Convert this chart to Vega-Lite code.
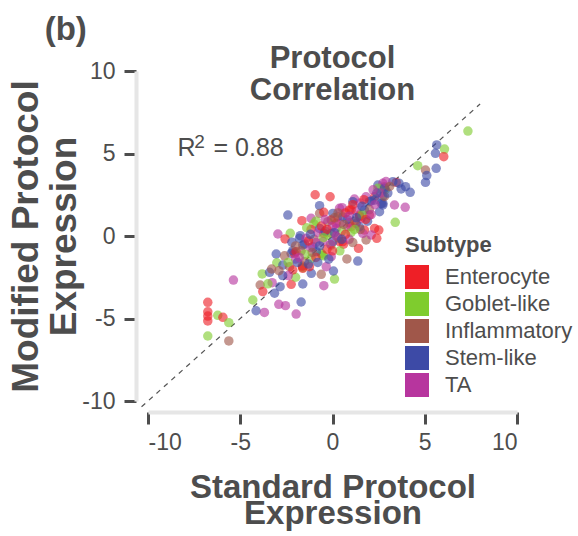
{
  "$schema": "https://vega.github.io/schema/vega-lite/v6.json",
  "autosize": {"type": "none"},
  "padding": {"left": 148, "top": 71, "right": 61, "bottom": 135},
  "width": 369,
  "height": 330,
  "background": "white",
  "config": {
    "font": "Liberation Sans",
    "view": {"stroke": null},
    "axis": {"grid": false}
  },
  "title": {
    "text": ["Protocol", "Correlation"],
    "fontSize": 31,
    "fontWeight": "bold",
    "color": "#4d4d4d",
    "anchor": "middle",
    "frame": "group",
    "lineHeight": 32,
    "offset": -93
  },
  "datasets": {
    "pts": [
      {"Standard": -6.76, "Modified": -4.02, "Subtype": "Enterocyte"},
      {"Standard": -6.76, "Modified": -4.59, "Subtype": "Enterocyte"},
      {"Standard": -6.76, "Modified": -4.85, "Subtype": "Enterocyte"},
      {"Standard": -6.76, "Modified": -5.15, "Subtype": "Enterocyte"},
      {"Standard": -6.22, "Modified": -4.81, "Subtype": "Goblet-like"},
      {"Standard": -5.94, "Modified": -4.93, "Subtype": "Enterocyte"},
      {"Standard": -5.62, "Modified": -5.25, "Subtype": "Goblet-like"},
      {"Standard": -6.76, "Modified": -6.06, "Subtype": "Goblet-like"},
      {"Standard": -5.62, "Modified": -6.36, "Subtype": "Inflammatory"},
      {"Standard": -5.37, "Modified": -2.67, "Subtype": "TA"},
      {"Standard": -4.32, "Modified": -3.88, "Subtype": "Goblet-like"},
      {"Standard": -4.14, "Modified": -4.53, "Subtype": "Stem-like"},
      {"Standard": -3.69, "Modified": -4.63, "Subtype": "TA"},
      {"Standard": -2.91, "Modified": -4.14, "Subtype": "TA"},
      {"Standard": -2.55, "Modified": -4.22, "Subtype": "TA"},
      {"Standard": -1.97, "Modified": -4.73, "Subtype": "TA"},
      {"Standard": -1.70, "Modified": -4.0, "Subtype": "Stem-like"},
      {"Standard": -3.92, "Modified": -2.97, "Subtype": "Inflammatory"},
      {"Standard": -3.78, "Modified": -3.37, "Subtype": "Enterocyte"},
      {"Standard": -3.81, "Modified": -2.30, "Subtype": "Goblet-like"},
      {"Standard": -3.41, "Modified": -2.2, "Subtype": "Stem-like"},
      {"Standard": -3.05, "Modified": -1.09, "Subtype": "Stem-like"},
      {"Standard": -3.27, "Modified": -2.83, "Subtype": "TA"},
      {"Standard": -3.02, "Modified": -1.62, "Subtype": "Goblet-like"},
      {"Standard": -2.84, "Modified": -3.07, "Subtype": "Stem-like"},
      {"Standard": -3.14, "Modified": -3.47, "Subtype": "Stem-like"},
      {"Standard": -2.24, "Modified": -2.93, "Subtype": "Enterocyte"},
      {"Standard": -1.61, "Modified": -2.91, "Subtype": "Stem-like"},
      {"Standard": -0.47, "Modified": -3.01, "Subtype": "TA"},
      {"Standard": 0.11, "Modified": -2.61, "Subtype": "Goblet-like"},
      {"Standard": 0.05, "Modified": -2.12, "Subtype": "Stem-like"},
      {"Standard": -0.61, "Modified": -2.32, "Subtype": "Inflammatory"},
      {"Standard": -2.0, "Modified": -2.5, "Subtype": "Goblet-like"},
      {"Standard": -2.69, "Modified": -1.76, "Subtype": "Stem-like"},
      {"Standard": -2.33, "Modified": -1.86, "Subtype": "Inflammatory"},
      {"Standard": -1.61, "Modified": -1.92, "Subtype": "Goblet-like"},
      {"Standard": -1.15, "Modified": -2.26, "Subtype": "Stem-like"},
      {"Standard": -1.64, "Modified": -1.82, "Subtype": "Enterocyte"},
      {"Standard": -2.24, "Modified": -1.05, "Subtype": "Stem-like"},
      {"Standard": -2.06, "Modified": -1.05, "Subtype": "Enterocyte"},
      {"Standard": -0.56, "Modified": -1.15, "Subtype": "Goblet-like"},
      {"Standard": -1.25, "Modified": -1.86, "Subtype": "Enterocyte"},
      {"Standard": -0.07, "Modified": -1.25, "Subtype": "TA"},
      {"Standard": -1.52, "Modified": -0.48, "Subtype": "Stem-like"},
      {"Standard": -0.94, "Modified": 2.5, "Subtype": "Enterocyte"},
      {"Standard": -0.13, "Modified": 2.38, "Subtype": "Enterocyte"},
      {"Standard": 1.19, "Modified": 2.24, "Subtype": "TA"},
      {"Standard": -2.42, "Modified": 1.27, "Subtype": "Stem-like"},
      {"Standard": -0.70, "Modified": 1.84, "Subtype": "Stem-like"},
      {"Standard": -1.66, "Modified": 0.93, "Subtype": "Enterocyte"},
      {"Standard": -0.70, "Modified": 1.37, "Subtype": "Inflammatory"},
      {"Standard": -0.47, "Modified": 1.44, "Subtype": "Enterocyte"},
      {"Standard": -1.16, "Modified": 1.07, "Subtype": "TA"},
      {"Standard": -1.01, "Modified": 0.73, "Subtype": "Goblet-like"},
      {"Standard": -1.16, "Modified": 0.4, "Subtype": "Enterocyte"},
      {"Standard": -2.96, "Modified": 0.12, "Subtype": "TA"},
      {"Standard": -2.29, "Modified": 0.16, "Subtype": "Goblet-like"},
      {"Standard": -2.57, "Modified": -0.18, "Subtype": "Enterocyte"},
      {"Standard": -2.20, "Modified": -0.38, "Subtype": "Stem-like"},
      {"Standard": -1.75, "Modified": 0.02, "Subtype": "Stem-like"},
      {"Standard": -2.15, "Modified": -0.89, "Subtype": "Stem-like"},
      {"Standard": -0.47, "Modified": 0.16, "Subtype": "Enterocyte"},
      {"Standard": 0.29, "Modified": 1.17, "Subtype": "Enterocyte"},
      {"Standard": 0.2, "Modified": 0.77, "Subtype": "Enterocyte"},
      {"Standard": 0.92, "Modified": 0.81, "Subtype": "Enterocyte"},
      {"Standard": 1.41, "Modified": -0.75, "Subtype": "Enterocyte"},
      {"Standard": 0.56, "Modified": -0.34, "Subtype": "Enterocyte"},
      {"Standard": 0.78, "Modified": -1.39, "Subtype": "Inflammatory"},
      {"Standard": 1.37, "Modified": -1.52, "Subtype": "Stem-like"},
      {"Standard": 1.73, "Modified": 0.36, "Subtype": "Enterocyte"},
      {"Standard": 2.28, "Modified": 0.46, "Subtype": "Enterocyte"},
      {"Standard": 2.51, "Modified": 0.36, "Subtype": "Enterocyte"},
      {"Standard": 1.82, "Modified": -0.24, "Subtype": "Inflammatory"},
      {"Standard": 2.1, "Modified": 0.06, "Subtype": "TA"},
      {"Standard": 2.28, "Modified": 2.38, "Subtype": "Enterocyte"},
      {"Standard": 1.82, "Modified": 2.38, "Subtype": "TA"},
      {"Standard": 2.46, "Modified": 3.09, "Subtype": "Stem-like"},
      {"Standard": 2.73, "Modified": 1.98, "Subtype": "Stem-like"},
      {"Standard": 2.55, "Modified": 1.47, "Subtype": "Stem-like"},
      {"Standard": 2.87, "Modified": 2.83, "Subtype": "Goblet-like"},
      {"Standard": 1.01, "Modified": 0.56, "Subtype": "Enterocyte"},
      {"Standard": -0.07, "Modified": 0.16, "Subtype": "Inflammatory"},
      {"Standard": 0.38, "Modified": 0.77, "Subtype": "TA"},
      {"Standard": -0.07, "Modified": -0.55, "Subtype": "Goblet-like"},
      {"Standard": -1.07, "Modified": -0.65, "Subtype": "Stem-like"},
      {"Standard": -0.61, "Modified": -1.05, "Subtype": "Goblet-like"},
      {"Standard": -1.61, "Modified": -1.96, "Subtype": "Enterocyte"},
      {"Standard": -0.34, "Modified": -1.86, "Subtype": "TA"},
      {"Standard": 7.34, "Modified": 6.36, "Subtype": "Goblet-like"},
      {"Standard": 5.65, "Modified": 5.52, "Subtype": "Stem-like"},
      {"Standard": 5.58, "Modified": 5.01, "Subtype": "Stem-like"},
      {"Standard": 6.07, "Modified": 5.27, "Subtype": "Goblet-like"},
      {"Standard": 6.03, "Modified": 4.81, "Subtype": "Enterocyte"},
      {"Standard": 4.62, "Modified": 4.26, "Subtype": "Goblet-like"},
      {"Standard": 5.04, "Modified": 4.0, "Subtype": "Inflammatory"},
      {"Standard": 5.62, "Modified": 4.1, "Subtype": "Stem-like"},
      {"Standard": 5.11, "Modified": 3.66, "Subtype": "Stem-like"},
      {"Standard": 5.04, "Modified": 3.25, "Subtype": "Stem-like"},
      {"Standard": 3.45, "Modified": 3.25, "Subtype": "Enterocyte"},
      {"Standard": 3.27, "Modified": 3.29, "Subtype": "Stem-like"},
      {"Standard": 3.96, "Modified": 2.99, "Subtype": "Stem-like"},
      {"Standard": 4.21, "Modified": 2.65, "Subtype": "Stem-like"},
      {"Standard": 3.72, "Modified": 2.85, "Subtype": "Stem-like"},
      {"Standard": 3.36, "Modified": 1.88, "Subtype": "TA"},
      {"Standard": 3.94, "Modified": 1.74, "Subtype": "TA"},
      {"Standard": 3.40, "Modified": 0.83, "Subtype": "Goblet-like"},
      {"Standard": 2.73, "Modified": 2.38, "Subtype": "Stem-like"},
      {"Standard": 2.82, "Modified": 2.99, "Subtype": "Inflammatory"},
      {"Standard": 2.73, "Modified": 3.19, "Subtype": "TA"},
      {"Standard": 2.46, "Modified": 2.89, "Subtype": "Goblet-like"},
      {"Standard": 2.73, "Modified": 1.88, "Subtype": "Stem-like"},
      {"Standard": 0.52, "Modified": 1.72, "Subtype": "TA"},
      {"Standard": 0.92, "Modified": 1.58, "Subtype": "Enterocyte"},
      {"Standard": 0.02, "Modified": 1.37, "Subtype": "Stem-like"},
      {"Standard": 2.0, "Modified": 1.27, "Subtype": "Enterocyte"},
      {"Standard": 2.1, "Modified": 2.12, "Subtype": "Stem-like"},
      {"Standard": 1.46, "Modified": 1.27, "Subtype": "Enterocyte"},
      {"Standard": 1.28, "Modified": 1.52, "Subtype": "TA"},
      {"Standard": 0.38, "Modified": 1.68, "Subtype": "TA"},
      {"Standard": -0.70, "Modified": 0.46, "Subtype": "Stem-like"},
      {"Standard": -0.07, "Modified": 0.97, "Subtype": "Enterocyte"},
      {"Standard": 1.28, "Modified": 0.77, "Subtype": "Enterocyte"},
      {"Standard": 0.83, "Modified": 0.56, "Subtype": "TA"},
      {"Standard": 1.55, "Modified": 1.07, "Subtype": "TA"},
      {"Standard": 1.73, "Modified": 1.58, "Subtype": "Stem-like"},
      {"Standard": 2.0, "Modified": 2.08, "Subtype": "Stem-like"},
      {"Standard": 2.4, "Modified": -0.14, "Subtype": "Enterocyte"},
      {"Standard": 1.64, "Modified": 0.16, "Subtype": "TA"},
      {"Standard": 0.6, "Modified": -0.5, "Subtype": "Enterocyte"},
      {"Standard": 0.38, "Modified": -0.34, "Subtype": "Enterocyte"},
      {"Standard": -0.5, "Modified": -1.2, "Subtype": "Goblet-like"},
      {"Standard": -1.15, "Modified": -1.35, "Subtype": "Goblet-like"},
      {"Standard": -0.25, "Modified": 0.06, "Subtype": "Goblet-like"},
      {"Standard": -1.97, "Modified": -0.95, "Subtype": "Enterocyte"},
      {"Standard": -1.79, "Modified": -0.14, "Subtype": "Stem-like"},
      {"Standard": -1.43, "Modified": -0.14, "Subtype": "TA"},
      {"Standard": -1.61, "Modified": -0.55, "Subtype": "Stem-like"},
      {"Standard": -1.52, "Modified": -1.56, "Subtype": "Inflammatory"},
      {"Standard": -0.88, "Modified": -0.95, "Subtype": "Stem-like"},
      {"Standard": -2.15, "Modified": -2.06, "Subtype": "Enterocyte"},
      {"Standard": -0.52, "Modified": -0.34, "Subtype": "TA"},
      {"Standard": 0.02, "Modified": -0.34, "Subtype": "Stem-like"},
      {"Standard": 0.2, "Modified": 0.46, "Subtype": "TA"},
      {"Standard": -0.25, "Modified": 0.87, "Subtype": "Inflammatory"},
      {"Standard": 1.46, "Modified": 0.56, "Subtype": "Stem-like"},
      {"Standard": 1.1, "Modified": 2.08, "Subtype": "Stem-like"},
      {"Standard": 2.82, "Modified": 2.9, "Subtype": "Stem-like"},
      {"Standard": 2.28, "Modified": 2.18, "Subtype": "Stem-like"},
      {"Standard": 2.64, "Modified": 1.98, "Subtype": "Stem-like"},
      {"Standard": 2.82, "Modified": 2.4, "Subtype": "Inflammatory"},
      {"Standard": 0.56, "Modified": 1.17, "Subtype": "Stem-like"},
      {"Standard": 1.01, "Modified": 1.58, "Subtype": "Enterocyte"},
      {"Standard": 1.46, "Modified": 1.17, "Subtype": "Enterocyte"},
      {"Standard": 1.5, "Modified": 2.0, "Subtype": "TA"},
      {"Standard": -1.0, "Modified": -0.2, "Subtype": "Inflammatory"},
      {"Standard": -0.8, "Modified": 0.2, "Subtype": "TA"},
      {"Standard": 0.5, "Modified": 0.3, "Subtype": "Goblet-like"},
      {"Standard": 0.8, "Modified": 1.0, "Subtype": "Stem-like"},
      {"Standard": 1.2, "Modified": 0.9, "Subtype": "Inflammatory"},
      {"Standard": 0.0, "Modified": 0.6, "Subtype": "TA"},
      {"Standard": -0.3, "Modified": -0.8, "Subtype": "Enterocyte"},
      {"Standard": 1.0, "Modified": 0.2, "Subtype": "Goblet-like"},
      {"Standard": 0.3, "Modified": -0.1, "Subtype": "Inflammatory"},
      {"Standard": -1.2, "Modified": -0.7, "Subtype": "TA"},
      {"Standard": -0.4, "Modified": 0.3, "Subtype": "Stem-like"},
      {"Standard": 0.7, "Modified": 1.4, "Subtype": "Enterocyte"},
      {"Standard": 1.6, "Modified": 1.3, "Subtype": "Goblet-like"},
      {"Standard": 2.0, "Modified": 1.6, "Subtype": "Inflammatory"},
      {"Standard": 2.3, "Modified": 1.9, "Subtype": "TA"},
      {"Standard": 1.9, "Modified": 0.9, "Subtype": "Stem-like"},
      {"Standard": -0.9, "Modified": -1.3, "Subtype": "Enterocyte"},
      {"Standard": -2.0, "Modified": -1.4, "Subtype": "TA"},
      {"Standard": -2.6, "Modified": -1.2, "Subtype": "Inflammatory"},
      {"Standard": -1.4, "Modified": 0.5, "Subtype": "Goblet-like"},
      {"Standard": -0.2, "Modified": -1.4, "Subtype": "Stem-like"},
      {"Standard": 0.9, "Modified": -0.2, "Subtype": "TA"},
      {"Standard": 1.5, "Modified": 0.4, "Subtype": "Inflammatory"},
      {"Standard": 1.1, "Modified": 1.9, "Subtype": "Enterocyte"},
      {"Standard": 2.6, "Modified": 2.6, "Subtype": "TA"},
      {"Standard": 3.0, "Modified": 2.6, "Subtype": "Stem-like"},
      {"Standard": 0.1, "Modified": 1.1, "Subtype": "Inflammatory"},
      {"Standard": -0.9, "Modified": 0.9, "Subtype": "Goblet-like"},
      {"Standard": -1.9, "Modified": -1.6, "Subtype": "Stem-like"},
      {"Standard": -2.4, "Modified": -2.4, "Subtype": "TA"},
      {"Standard": -0.6, "Modified": 0.6, "Subtype": "Enterocyte"},
      {"Standard": -1.7, "Modified": -0.9, "Subtype": "Inflammatory"},
      {"Standard": 0.4, "Modified": -0.9, "Subtype": "Goblet-like"},
      {"Standard": -1.3, "Modified": -1.7, "Subtype": "Stem-like"},
      {"Standard": -0.1, "Modified": -0.5, "Subtype": "TA"},
      {"Standard": 1.7, "Modified": 2.2, "Subtype": "Enterocyte"},
      {"Standard": 2.4, "Modified": 2.6, "Subtype": "Stem-like"},
      {"Standard": -3.3, "Modified": -2.0, "Subtype": "Inflammatory"},
      {"Standard": -3.5, "Modified": -2.9, "Subtype": "Goblet-like"},
      {"Standard": -2.7, "Modified": -2.4, "Subtype": "Stem-like"},
      {"Standard": -0.3, "Modified": 0.4, "Subtype": "Enterocyte"},
      {"Standard": 0.1, "Modified": 0.2, "Subtype": "Stem-like"},
      {"Standard": 0.6, "Modified": 0.7, "Subtype": "Inflammatory"},
      {"Standard": 0.9, "Modified": 1.2, "Subtype": "TA"},
      {"Standard": 1.3, "Modified": 1.1, "Subtype": "Stem-like"},
      {"Standard": -0.5, "Modified": -0.1, "Subtype": "Goblet-like"},
      {"Standard": -0.9, "Modified": -0.4, "Subtype": "TA"},
      {"Standard": -1.3, "Modified": -0.3, "Subtype": "Enterocyte"},
      {"Standard": -1.1, "Modified": -1.0, "Subtype": "Inflammatory"},
      {"Standard": -0.7, "Modified": -0.6, "Subtype": "Stem-like"},
      {"Standard": 0.2, "Modified": 0.0, "Subtype": "TA"},
      {"Standard": 0.7, "Modified": 0.1, "Subtype": "Enterocyte"},
      {"Standard": 1.2, "Modified": 0.4, "Subtype": "Goblet-like"},
      {"Standard": 1.8, "Modified": 1.0, "Subtype": "Enterocyte"},
      {"Standard": 2.1, "Modified": 1.3, "Subtype": "TA"},
      {"Standard": 1.6, "Modified": 1.8, "Subtype": "Stem-like"},
      {"Standard": 0.3, "Modified": 1.4, "Subtype": "Inflammatory"},
      {"Standard": -0.4, "Modified": 1.0, "Subtype": "TA"},
      {"Standard": -1.5, "Modified": -1.1, "Subtype": "Goblet-like"},
      {"Standard": -1.8, "Modified": -1.3, "Subtype": "TA"},
      {"Standard": -2.4, "Modified": -1.6, "Subtype": "Goblet-like"},
      {"Standard": -2.0, "Modified": -0.6, "Subtype": "Inflammatory"},
      {"Standard": -1.2, "Modified": 0.1, "Subtype": "Stem-like"},
      {"Standard": 0.0, "Modified": -0.9, "Subtype": "Enterocyte"},
      {"Standard": 0.5, "Modified": -0.2, "Subtype": "Stem-like"},
      {"Standard": 1.1, "Modified": -0.4, "Subtype": "Inflammatory"},
      {"Standard": 2.9, "Modified": 3.3, "Subtype": "TA"},
      {"Standard": 3.1, "Modified": 3.0, "Subtype": "Inflammatory"},
      {"Standard": 3.6, "Modified": 3.2, "Subtype": "Stem-like"},
      {"Standard": 2.2, "Modified": 2.8, "Subtype": "TA"},
      {"Standard": -0.8, "Modified": -1.6, "Subtype": "Stem-like"},
      {"Standard": -2.9, "Modified": -2.1, "Subtype": "Inflammatory"}
    ],
    "diag": [
      {"Standard": -10.35, "Modified": -10.35},
      {"Standard": 8, "Modified": 8}
    ]
  },
  "layer": [
    {
      "data": {"name": "diag"},
      "mark": {"type": "line", "color": "#555555", "strokeWidth": 1.2, "strokeDash": [5, 5], "clip": false},
      "encoding": {
        "x": {"field": "Standard", "type": "quantitative"},
        "y": {"field": "Modified", "type": "quantitative"}
      }
    },
    {
      "data": {"name": "pts"},
      "mark": {"type": "circle", "size": 90, "opacity": 0.62},
      "encoding": {
        "x": {
          "field": "Standard",
          "type": "quantitative",
          "scale": {"domain": [-10, 10], "nice": false, "zero": false},
          "axis": {
            "values": [-10, -5, 0, 5, 10],
            "labelExpr": "datum.value < 0 ? '-' + abs(datum.value) : '' + datum.value",
            "offset": 11,
            "domainColor": "#e6e6e6",
            "domainWidth": 4,
            "tickColor": "#4d4d4d",
            "tickWidth": 3,
            "tickSize": 12,
            "labelFontSize": 23,
            "labelColor": "#4d4d4d",
            "labelPadding": 7,
            "title": ["Standard Protocol", "Expression"],
            "titleFontSize": 33,
            "titleFontWeight": "bold",
            "titleColor": "#4d4d4d",
            "titleLineHeight": 26,
            "titlePadding": 17
          }
        },
        "y": {
          "field": "Modified",
          "type": "quantitative",
          "scale": {"domain": [-10, 10], "nice": false, "zero": false},
          "axis": {
            "values": [-10, -5, 0, 5, 10],
            "labelExpr": "datum.value < 0 ? '-' + abs(datum.value) : '' + datum.value",
            "offset": 12,
            "domainColor": "#e6e6e6",
            "domainWidth": 4,
            "tickColor": "#4d4d4d",
            "tickWidth": 3,
            "tickSize": 12,
            "labelFontSize": 23,
            "labelColor": "#4d4d4d",
            "labelPadding": 9,
            "title": ["Modified Protocol", "Expression"],
            "titleFontSize": 37,
            "titleFontWeight": "bold",
            "titleColor": "#4d4d4d",
            "titleLineHeight": 38,
            "titlePadding": -2
          }
        },
        "color": {
          "field": "Subtype",
          "type": "nominal",
          "scale": {
            "domain": ["Enterocyte", "Goblet-like", "Inflammatory", "Stem-like", "TA"],
            "range": ["#ee1f26", "#7fcc2e", "#a0574a", "#3d4aa6", "#b7359e"]
          },
          "legend": {
            "orient": "none",
            "legendX": 257,
            "legendY": 164,
            "padding": 0,
            "title": "Subtype",
            "titleFontSize": 22,
            "titleFontWeight": "bold",
            "titleColor": "#4d4d4d",
            "titlePadding": 8,
            "labelFontSize": 22,
            "labelColor": "#4d4d4d",
            "labelOffset": 16,
            "symbolType": "square",
            "symbolSize": 576,
            "symbolOpacity": 1,
            "symbolStrokeWidth": 0,
            "rowPadding": 3
          }
        }
      }
    },
    {
      "data": {"values": [{"label": "R"}]},
      "mark": {"type": "text", "fontSize": 25, "color": "#4d4d4d", "align": "left", "baseline": "alphabetic", "clip": false},
      "encoding": {"x": {"datum": -8.4}, "y": {"datum": 4.85}, "text": {"field": "label"}}
    },
    {
      "data": {"values": [{"label": "2"}]},
      "mark": {"type": "text", "fontSize": 19, "color": "#4d4d4d", "align": "left", "baseline": "alphabetic", "clip": false},
      "encoding": {"x": {"datum": -7.5}, "y": {"datum": 5.35}, "text": {"field": "label"}}
    },
    {
      "data": {"values": [{"label": "= 0.88"}]},
      "mark": {"type": "text", "fontSize": 25, "color": "#4d4d4d", "align": "left", "baseline": "alphabetic", "clip": false},
      "encoding": {"x": {"datum": -6.45}, "y": {"datum": 4.85}, "text": {"field": "label"}}
    },
    {
      "data": {"values": [{"label": "(b)"}]},
      "mark": {"type": "text", "fontSize": 33, "fontWeight": "bold", "color": "#4d4d4d", "align": "left", "baseline": "alphabetic", "clip": false},
      "encoding": {"x": {"datum": -15.6}, "y": {"datum": 11.85}, "text": {"field": "label"}}
    }
  ]
}
